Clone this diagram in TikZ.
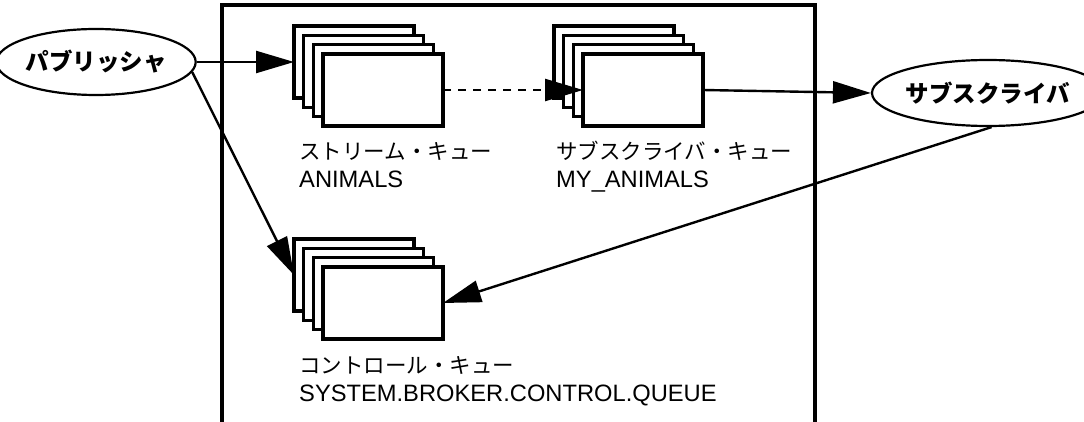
\documentclass[tikz,border=0pt]{standalone}
\usepackage{fontspec}
\setmainfont{Liberation Sans}
\newfontfamily\jp{Noto Sans CJK JP}
\usetikzlibrary{arrows.meta,shapes.geometric}
\begin{document}
\begin{tikzpicture}[x=1pt,y=-1pt,
  frame/.style={line width=3.3pt},
  qrect/.style={draw,line width=3.3pt,fill=white,minimum width=120pt,minimum height=72pt,inner sep=0pt,outer sep=0pt},
  ell/.style={draw,ellipse,line width=2.2pt,minimum width=176pt,minimum height=66pt,inner sep=0pt,font=\jp\bfseries\fontsize{23.5}{26}\selectfont},
  conn/.style={line width=2.4pt,-{Triangle[length=38pt,width=22pt]}},
  jplbl/.style={anchor=base west,inner sep=0pt,font=\jp\fontsize{21.5}{26}\selectfont},
  enlbl/.style={anchor=base west,inner sep=0pt,font=\fontsize{23.7}{28}\selectfont}]
\useasboundingbox (0,0) rectangle (1084,422);
% frame
\draw[frame] (222,422) -- (222,5) -- (815,5) -- (815,422);
% ellipses
\node[ell] (pub) at (96,62) {パブリッシャ};
\node[ell,minimum width=174pt] (sub) at (988,93) {サブスクライバ};
% stream queue stack
\node[qrect] (s1a) at (354,62) {};
\node[qrect] (s1b) at (363.67,71.33) {};
\node[qrect] (s1c) at (373.33,80.67) {};
\node[qrect] (s1d) at (383,90) {};
% subscriber queue stack
\node[qrect] (s2a) at (614,62) {};
\node[qrect] (s2b) at (623.67,71.33) {};
\node[qrect] (s2c) at (633.33,80.67) {};
\node[qrect] (s2d) at (643,90) {};
% control queue stack
\node[qrect] (s3a) at (354,275) {};
\node[qrect] (s3b) at (363.67,284.33) {};
\node[qrect] (s3c) at (373.33,293.67) {};
\node[qrect] (s3d) at (383,303) {};
% labels
\node[jplbl] (l1a) at (299,160) {ストリーム・キュー};
\node[enlbl] (l1b) at (299,188) {ANIMALS};
\node[jplbl] (l2a) at (556,160) {サブスクライバ・キュー};
\node[enlbl] (l2b) at (556,188) {MY\_ANIMALS};
\node[jplbl] (l3a) at (299,373) {コントロール・キュー};
\node[enlbl] (l3b) at (299,401) {SYSTEM.BROKER.CONTROL.QUEUE};
% connectors
\draw[conn] (pub.east) -- (s1a.west);
\draw[conn] (pub.-6) -- (s3a.west);
\draw[conn,dash pattern=on 8pt off 7pt] (s1d.east) -- (s2d.west);
\draw[conn] (s2d.east) -- (sub.west);
\draw[conn] (sub.-84) -- (s3d.east);
\end{tikzpicture}
\end{document}
